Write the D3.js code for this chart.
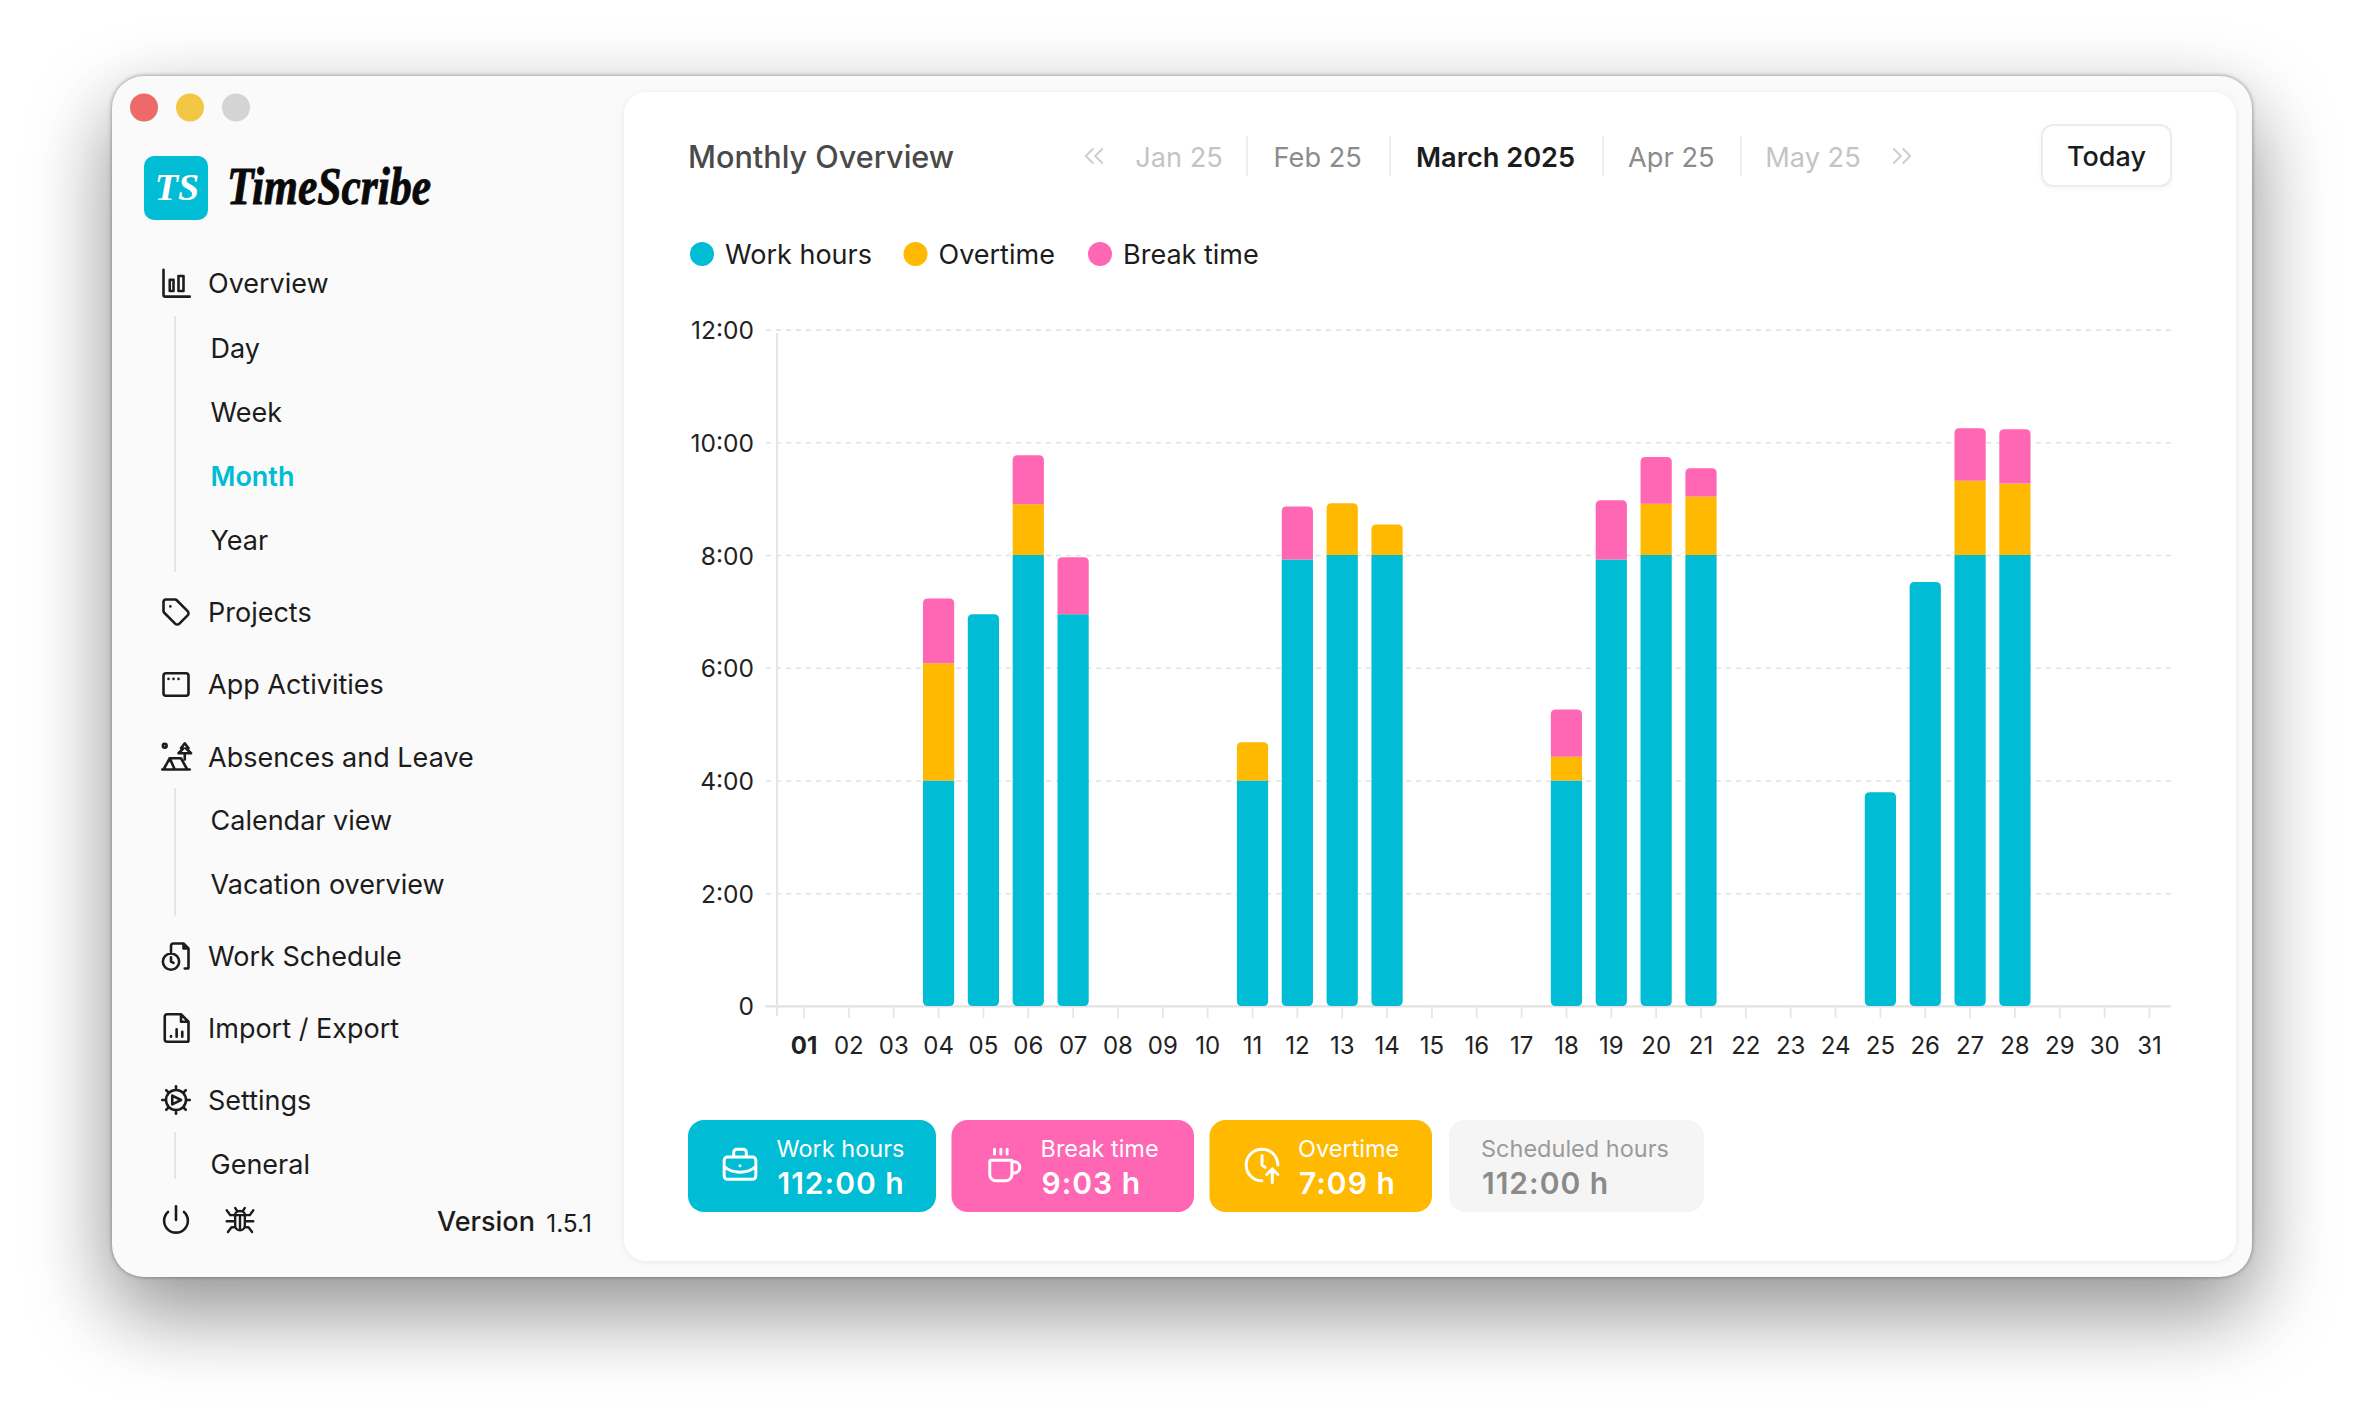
<!DOCTYPE html>
<html>
<head>
<meta charset="utf-8">
<script src="https://cdn.jsdelivr.net/npm/d3@7"></script>
<style>
  html, body { margin: 0; background: #fff; }
  svg { display: block; font-family: Inter, "Noto Sans", sans-serif; }
  text { dominant-baseline: central; }
  .domain { display: none; }
</style>
</head>
<body>
<svg id="chart" width="2364" height="1424"></svg>
<script>
const days = d3.range(1, 32).map(d => String(d).padStart(2, '0'));
const seriesKeys = ['work', 'overtime', 'breakTime'];
const seriesNames = ['Work hours', 'Overtime', 'Break time'];
const seriesColors = ['#00bcd4', '#ffb900', '#ff66b3'];
const yTicks = [0, 2, 4, 6, 8, 10, 12];
const yTickLabels = ['0', '2:00', '4:00', '6:00', '8:00', '10:00', '12:00'];

// hours per day
const workHours = [0, 0, 0, 4, 6.95, 8, 6.95, 0, 0, 0, 4, 7.92, 8, 8, 0, 0, 0, 4, 7.92, 8, 8, 0, 0, 0, 3.79, 7.52, 8, 8, 0, 0, 0];
const overtimeHours = [0, 0, 0, 2.08, 0, 0.9, 0, 0, 0, 0, 0.68, 0, 0.92, 0.54, 0, 0, 0, 0.42, 0, 0.91, 1.04, 0, 0, 0, 0, 0, 1.32, 1.27, 0, 0, 0];
const breakHours = [0, 0, 0, 1.15, 0, 0.87, 1.01, 0, 0, 0, 0, 0.94, 0, 0, 0, 0, 0, 0.84, 1.05, 0.83, 0.5, 0, 0, 0, 0, 0, 0.93, 0.96, 0, 0, 0];

const monthLabels = ['Jan 25', 'Feb 25', 'March 2025', 'Apr 25', 'May 25'];
const navLabels = ['Overview', 'Day', 'Week', 'Month', 'Year', 'Projects', 'App Activities', 'Absences and Leave', 'Calendar view', 'Vacation overview', 'Work Schedule', 'Import / Export', 'Settings', 'General'];
const cardLabels = ['Work hours', 'Break time', 'Overtime', 'Scheduled hours'];
const cardValues = ['112:00 h', '9:03 h', '7:09 h', '112:00 h'];

const svg = d3.select('#chart');

// window + panel
svg.append('rect')
  .attr('x', 112).attr('y', 76).attr('width', 2140).attr('height', 1201).attr('rx', 32)
  .attr('fill', '#fafafa')
  .style('filter', 'drop-shadow(0 34px 42px rgba(0,0,0,.33)) drop-shadow(0 0 2px rgba(0,0,0,.45))');

svg.append('rect')
  .attr('x', 624).attr('y', 92).attr('width', 1612).attr('height', 1169).attr('rx', 22)
  .attr('fill', '#fff')
  .style('filter', 'drop-shadow(0 1px 3px rgba(0,0,0,.07))');

[['#ec6a67', 144], ['#f2c744', 190], ['#d4d4d4', 236]].forEach(([c, x]) => {
  svg.append('circle').attr('cx', x).attr('cy', 107.5).attr('r', 14).attr('fill', c);
});

// logo
svg.append('rect').attr('x', 144).attr('y', 156).attr('width', 64).attr('height', 64).attr('rx', 10).attr('fill', '#00bcd4');
svg.append('text').attr('x', 177).attr('y', 187).attr('text-anchor', 'middle')
  .attr('fill', '#fff').attr('font-family', 'Liberation Serif').attr('font-style', 'italic').attr('font-weight', 700)
  .attr('font-size', 38).text('TS');
svg.append('text').attr('x', 227).attr('y', 186)
  .attr('fill', '#0a0a0a').attr('stroke', '#0a0a0a').attr('stroke-width', 0.9)
  .attr('font-family', 'Liberation Serif').attr('font-style', 'italic').attr('font-weight', 700)
  .attr('font-size', 52).attr('textLength', 204).attr('lengthAdjust', 'spacingAndGlyphs').text('TimeScribe');

// sidebar
const navY = [283.5, 348, 412, 476, 540, 612, 684.5, 757, 820, 884.5, 956, 1028, 1100, 1164];
const subItems = ['Day', 'Week', 'Month', 'Year', 'Calendar view', 'Vacation overview', 'General'];
navLabels.forEach((label, i) => {
  const sub = subItems.includes(label);
  svg.append('text')
    .attr('x', sub ? 210.5 : 208).attr('y', navY[i])
    .attr('font-size', 27)
    .attr('font-weight', label === 'Month' ? 600 : 400)
    .attr('fill', label === 'Month' ? '#00bcd4' : '#1c1c1c')
    .text(label);
});
[[316, 572], [788, 915.5], [1132, 1179]].forEach(([y1, y2]) => {
  svg.append('line').attr('x1', 175).attr('x2', 175).attr('y1', y1).attr('y2', y2)
    .attr('stroke', '#e5e5e5').attr('stroke-width', 2);
});

function icon(d, cx, cy, size, color, sw) {
  const k = size / 24;
  svg.append('path')
    .attr('transform', `translate(${cx - size / 2},${cy - size / 2}) scale(${k})`)
    .attr('d', d).attr('fill', 'none').attr('stroke', color)
    .attr('stroke-width', sw / k).attr('stroke-linecap', 'round').attr('stroke-linejoin', 'round');
}
const navIcons = [
  ['M2 1v20a1.5 1.5 0 0 0 1.5 1.5H23M7 9h3v9H7zM14 6h4v12h-4z', 283.5],
  ['M12.6 2.6A2 2 0 0 0 11.2 2H4a2 2 0 0 0-2 2v7.2a2 2 0 0 0 .6 1.4l8.7 8.7a2.4 2.4 0 0 0 3.4 0l6.6-6.6a2.4 2.4 0 0 0 0-3.4zM7.5 7.5h.01', 612],
  ['M4 3h16a2 2 0 0 1 2 2v14a2 2 0 0 1-2 2H4a2 2 0 0 1-2-2V5a2 2 0 0 1 2-2zM6 7.5h.01M10 7.5h.01M14 7.5h.01', 684.5],
  ['M1 22h22M3 1.5a1.5 1.5 0 1 1 0 3 1.5 1.5 0 0 1 0-3zM7 13 2 22M7 13h9l5 9M7 13l4 9M17 9l-3 0 4-4-2 0 3-4 3 4-2 0 4 4zM19 9v5', 757],
  ['M10 2h8l4 4v15a1 1 0 0 1-1 1h-2M18 2v4h4M10 2a2 2 0 0 0-2 2v5M8 10a6.5 6.5 0 1 1 0 13 6.5 6.5 0 0 1 0-13zM8 13v3.5l2 1', 956],
  ['M5 1h11l6 6v15a1 1 0 0 1-1 1H5a2 2 0 0 1-2-2V3a2 2 0 0 1 2-2zM16 1v6h6M8 19v-.5M12.5 19v-6M17 19v-4', 1028],
  ['M12 4a8 8 0 1 1 0 16 8 8 0 0 1 0-16zM12 1v3M12 20v3M1 12h3M20 12h3M4.2 4.2l2.1 2.1M17.7 17.7l2.1 2.1M4.2 19.8l2.1-2.1M17.7 6.3l2.1-2.1M9 8.5l7 3.5-7 3.5z', 1100]
];
navIcons.forEach(([d, y]) => icon(d, 176, y, 30, '#1c1c1c', 2.6));
icon('M12 1v11M18.4 5.6a9.5 9.5 0 1 1-12.8 0', 176, 1220, 30, '#1c1c1c', 2.6);
icon('M8 2l2 3M16 2l-2 3M12 4.5c-3 0-4 2-4 3v9a4 4 0 0 0 8 0v-9c0-1-1-3-4-3zM8 8h8M12 8v12M1 4l3 4h4M23 4l-3 4h-4M1 13h7M23 13h-7M2 22l3-4h3M22 22l-3-4h-3', 240, 1220, 29, '#1c1c1c', 2.4);
svg.append('text').attr('x', 437).attr('y', 1221).attr('font-size', 27).attr('font-weight', 500).attr('fill', '#1c1c1c').text('Version');
svg.append('text').attr('x', 592).attr('y', 1223).attr('text-anchor', 'end').attr('font-size', 24.5).attr('fill', '#1c1c1c').text('1.5.1');

// header
svg.append('text').attr('x', 688).attr('y', 156).attr('font-size', 30.6).attr('font-weight', 500).attr('fill', '#4a4a4a').text('Monthly Overview');
const monthX = [1179, 1317.7, 1495.6, 1671.3, 1813];
const monthColors = ['#c4c4c4', '#8c8c8c', '#1c1c1c', '#8c8c8c', '#c4c4c4'];
monthLabels.forEach((m, i) => {
  svg.append('text').attr('x', monthX[i]).attr('y', 157).attr('text-anchor', 'middle')
    .attr('font-size', 27.2).attr('font-weight', i === 2 ? 600 : 400).attr('fill', monthColors[i]).text(m);
});
[1247, 1390, 1603, 1741].forEach(x => {
  svg.append('line').attr('x1', x).attr('x2', x).attr('y1', 136).attr('y2', 176).attr('stroke', '#e8e8e8').attr('stroke-width', 1.5);
});
icon('M11 18 5 12l6-6M19 18l-6-6 6-6', 1094, 156, 28, '#d0d0d0', 2.2);
icon('M5 18l6-6-6-6M13 18l6-6-6-6', 1902, 156, 28, '#d0d0d0', 2.2);
svg.append('rect').attr('x', 2042).attr('y', 125).attr('width', 129).attr('height', 61).attr('rx', 11)
  .attr('fill', '#fff').attr('stroke', '#ececec').attr('stroke-width', 2)
  .style('filter', 'drop-shadow(0 2px 2px rgba(0,0,0,.04))');
svg.append('text').attr('x', 2106.5).attr('y', 156).attr('text-anchor', 'middle').attr('font-size', 27).attr('font-weight', 500).attr('fill', '#1c1c1c').text('Today');

// legend
const legendX = [702, 915.5, 1100];
seriesNames.forEach((name, i) => {
  svg.append('circle').attr('cx', legendX[i]).attr('cy', 254).attr('r', 12).attr('fill', seriesColors[i]);
  svg.append('text').attr('x', legendX[i] + 23).attr('y', 254).attr('font-size', 27).attr('fill', '#1c1c1c').text(name);
});

// chart
const x = d3.scaleBand().domain(days).range([781.6, 2171.9]).paddingInner(0.304).paddingOuter(0.152);
const y = d3.scaleLinear().domain([0, 12]).range([1005.9, 329.6]);
const axisLeftX = 777;

const yAxis = svg.append('g')
  .attr('transform', `translate(${axisLeftX},0)`)
  .call(d3.axisLeft(y).tickValues(yTicks).tickSize(12).tickPadding(11).tickFormat((d, i) => yTickLabels[i]));
yAxis.selectAll('.tick line')
  .attr('x1', 2171 - axisLeftX).attr('x2', -12)
  .attr('stroke', '#e2e2e2').attr('stroke-width', 1.6).attr('stroke-dasharray', '5 5');
yAxis.selectAll('text').attr('font-size', 24.5).attr('font-family', 'Inter').attr('fill', '#222').attr('dy', 0);
yAxis.selectAll('.tick').filter(d => d === 0).select('line')
  .attr('stroke-dasharray', null).attr('stroke', '#e2e2e2').attr('stroke-width', 2.4);
svg.append('line').attr('x1', axisLeftX).attr('x2', axisLeftX).attr('y1', 333).attr('y2', 1016)
  .attr('stroke', '#e6e6e6').attr('stroke-width', 2);

const xAxis = svg.append('g')
  .attr('transform', 'translate(0,1005.9)')
  .call(d3.axisBottom(x).tickSize(12).tickPadding(10));
xAxis.selectAll('.tick line').attr('stroke', '#e6e6e6').attr('stroke-width', 1.8);
xAxis.selectAll('text').attr('font-size', 24).attr('font-family', 'Inter').attr('fill', '#222').attr('y', 40).attr('dy', 0)
  .attr('font-weight', d => d === '01' ? 700 : 400);

const rows = days.map((d, i) => ({ day: d, work: workHours[i], overtime: overtimeHours[i], breakTime: breakHours[i] }));
const stacked = d3.stack().keys(seriesKeys)(rows);

function barPath(px, top, w, bottom, rTop, rBottom) {
  const p = d3.path();
  p.moveTo(px + rTop, top);
  p.lineTo(px + w - rTop, top);
  p.quadraticCurveTo(px + w, top, px + w, top + rTop);
  p.lineTo(px + w, bottom - rBottom);
  p.quadraticCurveTo(px + w, bottom, px + w - rBottom, bottom);
  p.lineTo(px + rBottom, bottom);
  p.quadraticCurveTo(px, bottom, px, bottom - rBottom);
  p.lineTo(px, top + rTop);
  p.quadraticCurveTo(px, top, px + rTop, top);
  p.closePath();
  return p.toString();
}

svg.append('g').selectAll('g').data(stacked).join('g')
  .attr('fill', (d, i) => seriesColors[i])
  .selectAll('path')
  .data((s, si) => s.map(v => ({ v, si })).filter(d => d.v[1] > d.v[0]))
  .join('path')
  .attr('d', ({ v, si }) => {
    const isTop = v[1] === d3.sum(seriesKeys, k => v.data[k]);
    return barPath(x(v.data.day), y(v[1]), x.bandwidth(), y(v[0]), isTop ? 5 : 0, si === 0 ? 5 : 0);
  });

// summary cards
const cardX = [688, 951.5, 1209.5, 1449];
const cardWidths = [248, 242.5, 222.5, 255];
const cardFill = ['#00bcd4', '#ff66b3', '#ffb900', '#f5f5f5'];
const cardTextX = [776.5, 1040.5, 1298, 1481];
cardLabels.forEach((label, i) => {
  const grey = i === 3;
  svg.append('rect').attr('x', cardX[i]).attr('y', 1120).attr('width', cardWidths[i]).attr('height', 92).attr('rx', 16).attr('fill', cardFill[i]);
  svg.append('text').attr('x', cardTextX[i]).attr('y', 1148).attr('font-size', 23.5)
    .attr('fill', grey ? '#9a9a9a' : '#fff').text(label);
  svg.append('text').attr('x', cardTextX[i] + 1).attr('y', 1183).attr('font-size', 30).attr('font-weight', 600).attr('letter-spacing', 1)
    .attr('fill', grey ? '#8a8a8a' : '#fff').text(cardValues[i]);
});
icon('M8 7V4a2 2 0 0 1 2-2h4a2 2 0 0 1 2 2v3M4 7h16a2 2 0 0 1 2 2v10a2 2 0 0 1-2 2H4a2 2 0 0 1-2-2V9a2 2 0 0 1 2-2zM2 13c3 2.5 7 3.5 10 3.5s7-1 10-3.5M12 12.5v.01', 740, 1165, 38, '#fff', 3);
icon('M6 2v3M10 2v3M14 2v3M4 9h13v9a4 4 0 0 1-4 4H7a4 4 0 0 1-4-4V10a1 1 0 0 1 1-1zM17 10h1.5a3.5 3.5 0 0 1 0 7H17', 1004, 1165, 38, '#fff', 3);
icon('M12 22A10 10 0 1 1 22 12M12 6v6l2 1.5M15 18l3.5-3.5L22 18M18.5 23v-8', 1262, 1165, 38, '#fff', 3);
</script>
</body>
</html>
